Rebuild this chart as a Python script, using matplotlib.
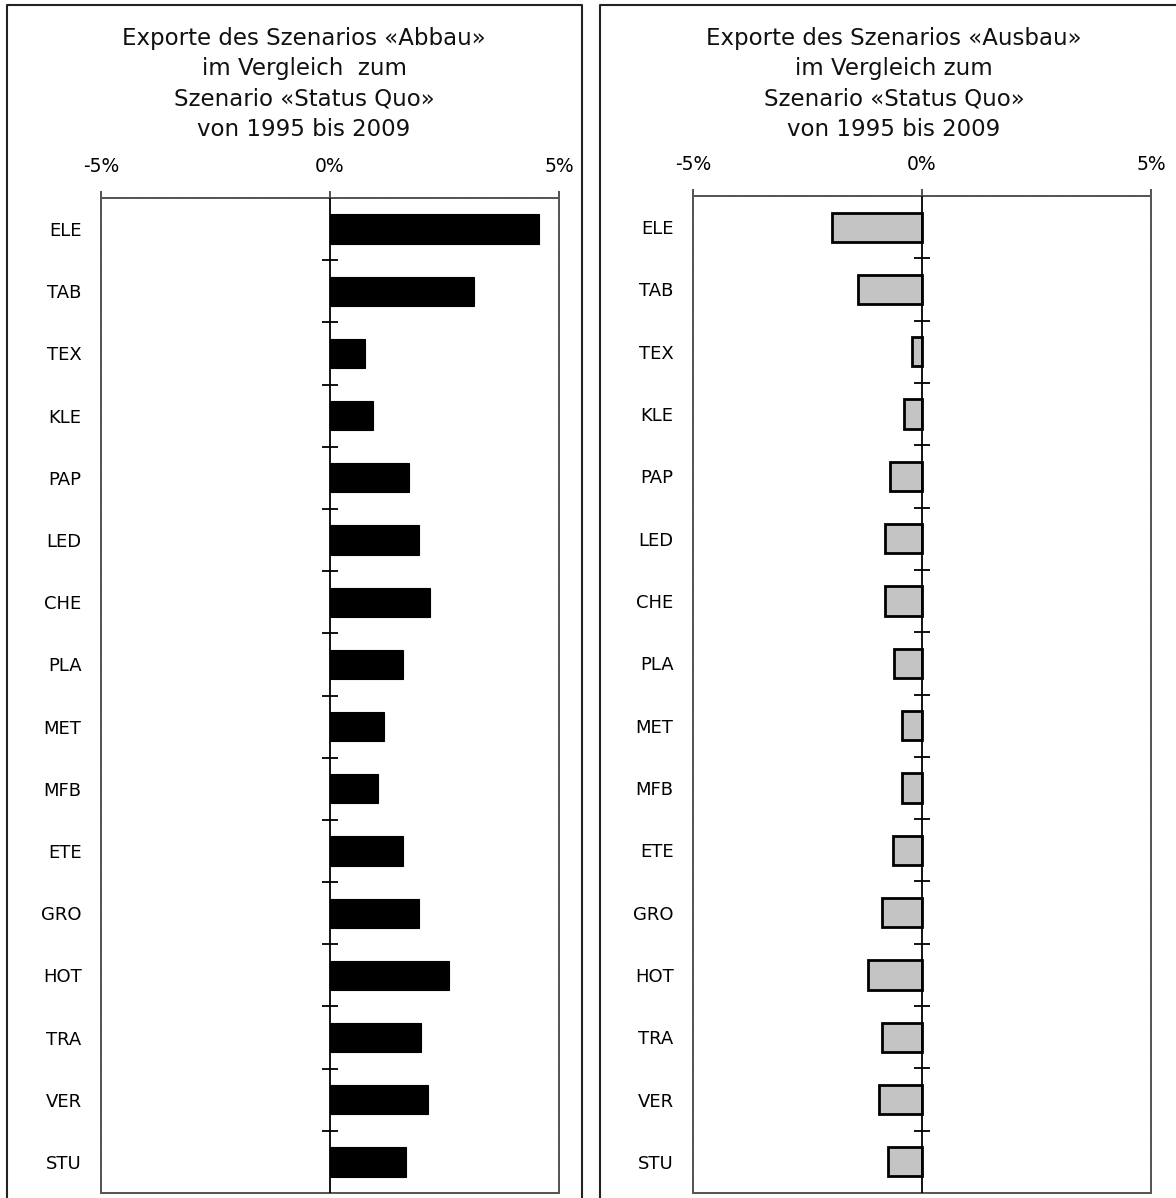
import matplotlib
matplotlib.use("Agg")
import matplotlib.pyplot as plt
from matplotlib.lines import Line2D

# Branch codes, top to bottom
branches = ["ELE", "TAB", "TEX", "KLE", "PAP", "LED", "CHE", "PLA",
            "MET", "MFB", "ETE", "GRO", "HOT", "TRA", "VER", "STU"]

# Export change vs. "Status Quo" scenario, 1995-2009 (percent)
abbau = [4.56, 3.14, 0.76, 0.94, 1.72, 1.94, 2.18, 1.60,
         1.18, 1.05, 1.60, 1.94, 2.60, 1.99, 2.14, 1.66]
ausbau = [-1.96, -1.40, -0.22, -0.39, -0.70, -0.81, -0.81, -0.61,
          -0.44, -0.43, -0.63, -0.87, -1.17, -0.87, -0.94, -0.74]

x_ticks = [-5, 0, 5]
x_ticklabels = ["-5%", "0%", "5%"]

title_abbau = ["Exporte des Szenarios «Abbau»", "im Vergleich  zum",
               "Szenario «Status Quo»", "von 1995 bis 2009"]
title_ausbau = ["Exporte des Szenarios «Ausbau»", "im Vergleich zum",
                "Szenario «Status Quo»", "von 1995 bis 2009"]

W, H = 1176, 1198
fig = plt.figure(figsize=(W / 100, H / 100), dpi=100)
fig.patch.set_facecolor("white")

narrow = ["Liberation Sans Narrow", "DejaVu Sans"]


def px_rect(x0, y0, x1, y1):
    return [x0 / W, (H - y1) / H, (x1 - x0) / W, (y1 - y0) / H]


def draw_panel(rect, values, face, edge, lw, titles, title_cx, label_pad):
    ax = fig.add_axes(rect)
    n = len(branches)
    ypos = list(range(n))
    ax.barh(ypos, values, height=0.47, color=face, edgecolor=edge,
            linewidth=lw, zorder=3)
    ax.set_xlim(-5, 5)
    ax.set_ylim(n - 0.5, -0.5)

    # zero line with small separators between the branches
    ax.axvline(0, color="black", lw=1.3, zorder=4)
    ax.plot([0] * (n - 1), [i + 0.5 for i in range(n - 1)], ls="none",
            marker="_", ms=11, mew=1.3, color="black", zorder=4)

    ax.xaxis.tick_top()
    ax.set_xticks(x_ticks)
    ax.set_xticklabels(x_ticklabels, fontfamily=narrow, fontsize=13.5)
    ax.tick_params(axis="x", direction="out", length=5, width=1.2,
                   pad=11, color="#333333")
    ax.set_yticks(ypos)
    ax.set_yticklabels(branches, fontsize=13)
    ax.tick_params(axis="y", length=0, pad=label_pad)

    for s in ax.spines.values():
        s.set_color("#555555")
        s.set_linewidth(1.4)
        s.set_linestyle((0, (1.2, 0.5)))

    ys = [38, 68, 99, 129]
    for t, y in zip(titles, ys):
        fig.text(title_cx / W, 1 - y / H, t, ha="center", va="center",
                 fontsize=16.5, color="#111111")
    return ax


draw_panel(px_rect(101, 198, 559, 1193), abbau, "black", "black", 0.8,
           title_abbau, 304, 14)
draw_panel(px_rect(693, 196, 1151, 1193), ausbau, "#c4c4c4", "black", 2.0,
           title_ausbau, 894, 14)

# surrounding frames of the two panels
frame_kw = dict(color="#222222", lw=1.5, transform=fig.transFigure)
def fig_line(xs, ys):
    fig.add_artist(Line2D([x / W for x in xs], [1 - y / H for y in ys],
                          **frame_kw))

fig_line([7, 7, 582, 582], [H, 5, 5, H])
fig_line([600, 600, W], [H, 5, 5])

fig.savefig("out.png", dpi=100, facecolor="white")
